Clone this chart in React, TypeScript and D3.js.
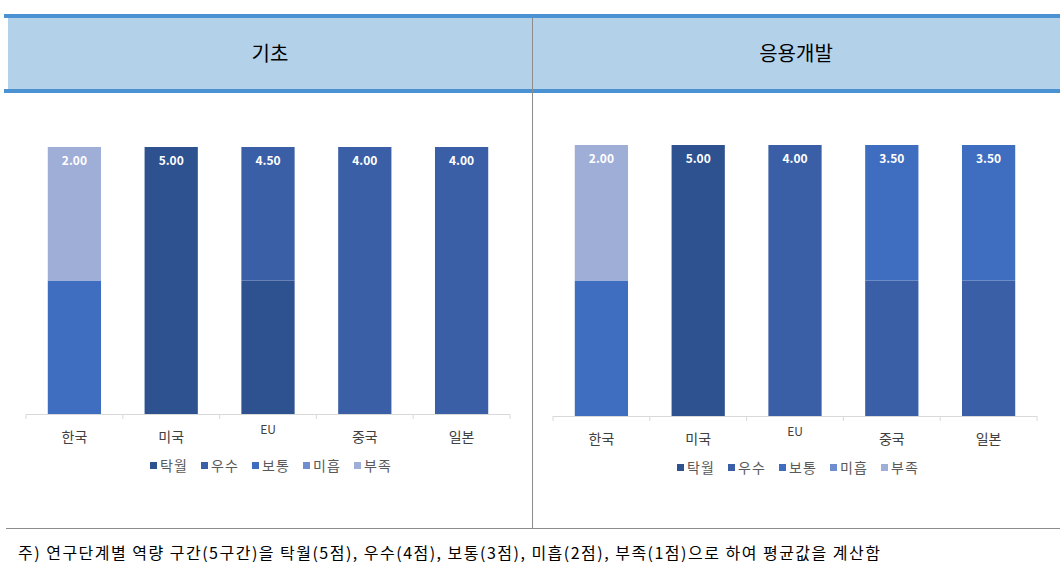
import * as d3 from 'd3';

const categories = ['한국', '미국', 'EU', '중국', '일본'];
const levels = ['탁월', '우수', '보통', '미흡', '부족'];
const levelColors = ['#2E5190', '#3A5FA7', '#3F6DBF', '#6F8DCF', '#9FAED7'];

// share (%) of each rating level per country
const basicShares = {
  탁월: [0, 100, 50, 0, 0],
  우수: [0, 0, 50, 100, 100],
  보통: [50, 0, 0, 0, 0],
  미흡: [0, 0, 0, 0, 0],
  부족: [50, 0, 0, 0, 0],
};
const appliedShares = {
  탁월: [0, 100, 0, 0, 0],
  우수: [0, 0, 100, 50, 50],
  보통: [50, 0, 0, 50, 50],
  미흡: [0, 0, 0, 0, 0],
  부족: [50, 0, 0, 0, 0],
};
const basicAverages = [2.0, 5.0, 4.5, 4.0, 4.0];
const appliedAverages = [2.0, 5.0, 4.0, 3.5, 3.5];

const panelTitles = ['기초', '응용개발'];
const footnote =
  '주) 연구단계별 역량 구간(5구간)을 탁월(5점), 우수(4점), 보통(3점), 미흡(2점), 부족(1점)으로 하여 평균값을 계산함';

const font = '"Noto Sans CJK KR", "Noto Sans", sans-serif';

type PanelProps = {
  shares: Record<string, number[]>;
  averages: number[];
  x0: number;
  x1: number;
  yTop: number;
  yBottom: number;
};

const Panel = ({ shares, averages, x0, x1, yTop, yBottom }: PanelProps) => {
  const rows = categories.map((c, i) => {
    const r: Record<string, any> = { category: c };
    levels.forEach((l) => (r[l] = shares[l][i]));
    return r;
  });
  const series = d3.stack<any>().keys(levels)(rows);

  const x = d3.scaleBand().domain(categories).range([x0, x1]).paddingInner(0.45).paddingOuter(0.225);
  const band = d3.scaleBand().domain(categories).range([x0, x1]);
  const y = d3.scaleLinear().domain([0, 100]).range([yBottom, yTop]);

  const center = (x0 + x1) / 2;
  const step = 51;
  const legendStart = center - 118;

  return (
    <g>
      {series.map((s, si) => (
        <g key={s.key} fill={levelColors[si]}>
          {s.map((d, i) =>
            d[1] - d[0] > 0 ? (
              <rect
                key={i}
                x={x(categories[i])!}
                y={y(d[1])}
                width={x.bandwidth()}
                height={y(d[0]) - y(d[1])}
              />
            ) : null,
          )}
        </g>
      ))}
      {averages.map((v, i) => (
        <text
          key={i}
          x={x(categories[i])! + x.bandwidth() / 2}
          y={yTop + 18}
          textAnchor="middle"
          fill="#ffffff"
          fontWeight="bold"
          fontSize={12}
        >
          {v.toFixed(2)}
        </text>
      ))}
      <line x1={x0} x2={x1} y1={yBottom + 0.5} y2={yBottom + 0.5} stroke="#d9d9d9" />
      {[x0, ...categories.map((c) => band(c)! + band.bandwidth())].map((t, i) => (
        <line key={i} x1={t} x2={t} y1={yBottom} y2={yBottom + 5} stroke="#d9d9d9" />
      ))}
      {categories.map((c) => (
        <text
          key={c}
          x={band(c)! + band.bandwidth() / 2}
          y={yBottom + (c === 'EU' ? 20 : 28)}
          textAnchor="middle"
          fill="#404040"
          fontSize={c === 'EU' ? 12 : 14}
        >
          {c}
        </text>
      ))}
      {levels.map((l, i) => (
        <g key={l} transform={`translate(${legendStart + i * step},${yBottom + 57})`}>
          <rect x={0} y={-9} width={7} height={7} fill={levelColors[i]} />
          <text x={10} y={0} fill="#595959" fontSize={14} letterSpacing={1}>
            {l}
          </text>
        </g>
      ))}
    </g>
  );
};

export default function App() {
  return (
    <div style={{ position: 'absolute', left: 0, top: 0 }}>
      <svg width={1060} height={577} style={{ display: 'block', fontFamily: font }}>
        <rect x={0} y={0} width={1060} height={577} fill="#ffffff" />
        <rect x={8} y={17} width={1052} height={74} fill="#B3D2EA" />
        <rect x={4} y={14} width={1056} height={4} fill="#4A92D2" />
        <rect x={4} y={89} width={1056} height={4} fill="#4A92D2" />
        <line x1={532.5} x2={532.5} y1={18} y2={528} stroke="#8c8c8c" />
        <line x1={6} x2={1060} y1={528.5} y2={528.5} stroke="#8c8c8c" />
        <text x={270} y={61} textAnchor="middle" fontSize={20} fill="#000">
          {panelTitles[0]}
        </text>
        <text x={796} y={61} textAnchor="middle" fontSize={20} fill="#000">
          {panelTitles[1]}
        </text>
        <Panel shares={basicShares} averages={basicAverages} x0={26} x1={510} yTop={147} yBottom={414} />
        <Panel shares={appliedShares} averages={appliedAverages} x0={553} x1={1037} yTop={145} yBottom={416} />
        <text x={18} y={559} fontSize={16} fill="#000" textLength={862} lengthAdjust="spacing">
          {footnote}
        </text>
      </svg>
    </div>
  );
}
